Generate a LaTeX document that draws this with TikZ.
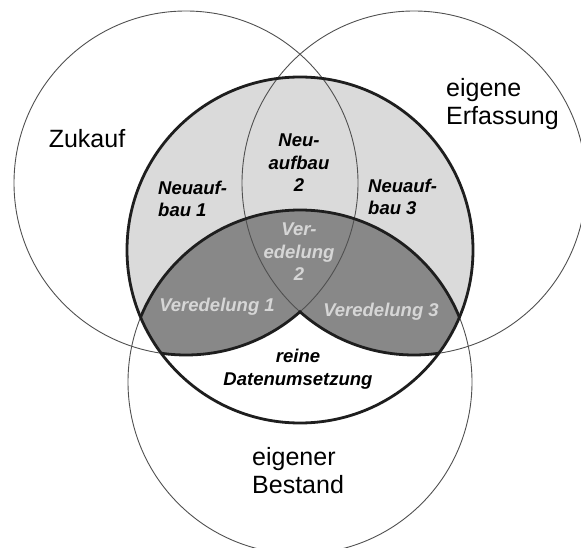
\documentclass[tikz,border=0pt]{standalone}
\usepackage{fontspec}
\setmainfont{Liberation Sans}
\usepackage{tikz}
\usetikzlibrary{positioning}
\definecolor{lightfill}{RGB}{218, 218, 218}
\definecolor{darkfill}{RGB}{136, 136, 136}
\definecolor{darktext}{RGB}{214, 214, 214}
\definecolor{thinline}{RGB}{80, 80, 80}
\definecolor{thickline}{RGB}{30, 30, 30}
\tikzset{
  thincirc/.style={draw=thinline, line width=0.9pt},
  thickcirc/.style={draw=thickline, line width=2.8pt},
  setlabel/.style={font=\fontsize{25}{28}\selectfont, align=left, inner sep=0pt},
  partlabel/.style={font=\fontsize{18.5}{22.5}\selectfont\bfseries\itshape, align=center, inner sep=0pt},
  darklabel/.style={partlabel, text=darktext}
}

\begin{document}
\begin{tikzpicture}[x=1pt, y=-1pt]
        \useasboundingbox (0,0) rectangle (581,548);
        % Product circle
        \fill[lightfill] (300,250) circle (173);
        % Own stock part: white, refined parts dark
        \begin{scope}
            \clip (300,250) circle (173);
            \fill[white] (300,382) circle (172);
            \clip (300,382) circle (172);
            \fill[darkfill] (186,183) circle (172);
            \fill[darkfill] (414,183) circle (172);
        \end{scope}
        
        % Source circles
        \draw[thincirc] (186,183) circle (172);
        \draw[thincirc] (414,183) circle (172);
        \draw[thincirc] (300,382) circle (172);
        
        % Borders of the refined parts
        \begin{scope}
            \clip (300,250) circle (173);
            \draw[thickcirc] (300,382) circle (172);
            \clip (300,382) circle (172);
            \begin{scope}
                \clip (0,0) rectangle (300,548);
                \draw[thickcirc] (186,183) circle (172);
            \end{scope}
            \begin{scope}
                \clip (300,0) rectangle (581,548);
                \draw[thickcirc] (414,183) circle (172);
            \end{scope}
        \end{scope}
        \draw[thickcirc] (300,250) circle (173);
        
        % Source labels
        \node[setlabel] (zukauf) at (87,139) {Zukauf};
        \node[setlabel, anchor=west] (erfassung) at (446,104) {eigene\\Erfassung};
        \node[setlabel, anchor=west] (bestand) at (252,471) {eigener\\Bestand};
        
        % Part labels
        \node[partlabel] (neu2) at (299,163) {Neu-\\aufbau\\2};
        \node[partlabel, anchor=west, align=left] (neu1) at (158,199) {Neuauf-\\bau 1};
        \node[partlabel, anchor=west, align=left] (neu3) at (368,197) {Neuauf-\\bau 3};
        \node[darklabel] (ver2) at (299,252) {Ver-\\edelung\\2};
        \node[darklabel] (ver1) at (217,307) {Veredelung 1};
        \node[darklabel] (ver3) at (381,312) {Veredelung 3};
        \node[partlabel] (reine) at (298,369) {reine\\Datenumsetzung};
\end{tikzpicture}
\end{document}
